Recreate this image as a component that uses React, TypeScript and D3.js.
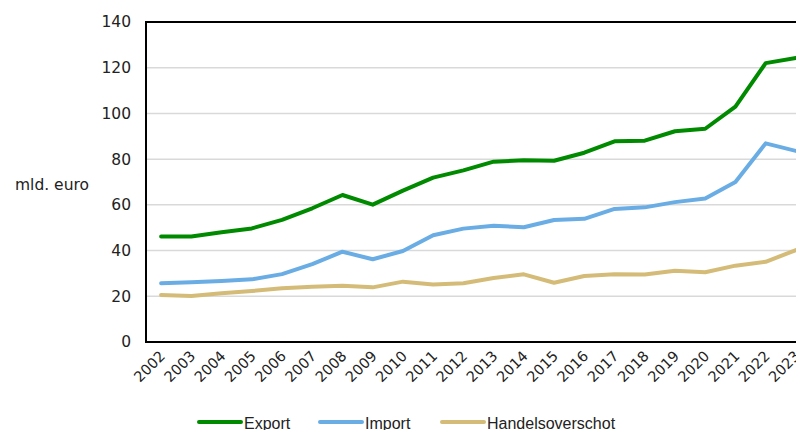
import React from "react";
import * as d3 from "d3";

const years = ["2002","2003","2004","2005","2006","2007","2008","2009","2010","2011","2012","2013","2014","2015","2016","2017","2018","2019","2020","2021","2022","2023"];
const exportVals = [46.2,46.2,48.0,49.7,53.4,58.5,64.3,60.1,66.2,71.9,75.1,78.9,79.5,79.3,82.8,87.8,88.1,92.2,93.3,103.0,122.0,124.3];
const importVals = [25.7,26.1,26.7,27.4,29.7,34.1,39.5,36.2,39.8,46.7,49.6,50.9,50.2,53.4,53.9,58.2,58.9,61.2,62.8,70.0,86.9,83.6];
const surplusVals = [20.6,20.1,21.3,22.3,23.5,24.2,24.6,23.9,26.4,25.2,25.7,28.0,29.6,25.9,28.9,29.6,29.5,31.2,30.5,33.4,35.1,40.2];
const yTicks = [0,20,40,60,80,100,120,140];
const seriesNames = ["Export","Import","Handelsoverschot"];
const colors = ["#008a00","#6aade4","#d4bc78"];

export default function App() {
  const W = 796, H = 430;
  const left = 146, top = 22, bottom = 342, right = 811;
  const x = d3.scalePoint<string>().domain(years).range([left, right]).padding(0.5);
  const y = d3.scaleLinear().domain([0, 140]).range([bottom, top]);
  const line = d3.line<number>().x((_, i) => x(years[i]) as number).y(d => y(d));
  const all = [exportVals, importVals, surplusVals];
  const font = "Verdana, 'DejaVu Sans', sans-serif";
  const legendX = [199, 320, 442];
  return (
    <svg width={W} height={H} style={{ position: "absolute", left: 0, top: 0 }} fontFamily={font}>
      <rect x={0} y={0} width={W} height={H} fill="#fff" />
      {yTicks.filter(t => t > 0).map(t => (
        <line key={t} x1={left} x2={right} y1={y(t)} y2={y(t)} stroke="#d9d9d9" strokeWidth={1.5} />
      ))}
      <rect x={left} y={top} width={right - left} height={bottom - top} fill="none" stroke="#000" strokeWidth={2} />
      {yTicks.map(t => (
        <text key={t} x={131} y={y(t)} dy="0.35em" textAnchor="end" fontSize={15.5} fill="#222">{t}</text>
      ))}
      <text x={15} y={185} dy="0.35em" fontSize={15.5} fill="#222">mld. euro</text>
      {years.map(yr => (
        <text key={yr} transform={`translate(${(x(yr) as number) + 5},${357}) rotate(-45)`} textAnchor="end" fontSize={14.5} fill="#222">{yr}</text>
      ))}
      {all.map((vals, i) => (
        <path key={i} d={line(vals) as string} fill="none" stroke={colors[i]} strokeWidth={4} strokeLinejoin="round" strokeLinecap="round" />
      ))}
      {seriesNames.map((n, i) => (
        <g key={n}>
          <line x1={legendX[i]} x2={legendX[i] + 42} y1={422} y2={422} stroke={colors[i]} strokeWidth={4} strokeLinecap="round" />
          <text x={legendX[i] + 45} y={423} dy="0.35em" fontSize={16} fill="#222" fontFamily="'Liberation Sans', Arial, sans-serif">{n}</text>
        </g>
      ))}
    </svg>
  );
}
